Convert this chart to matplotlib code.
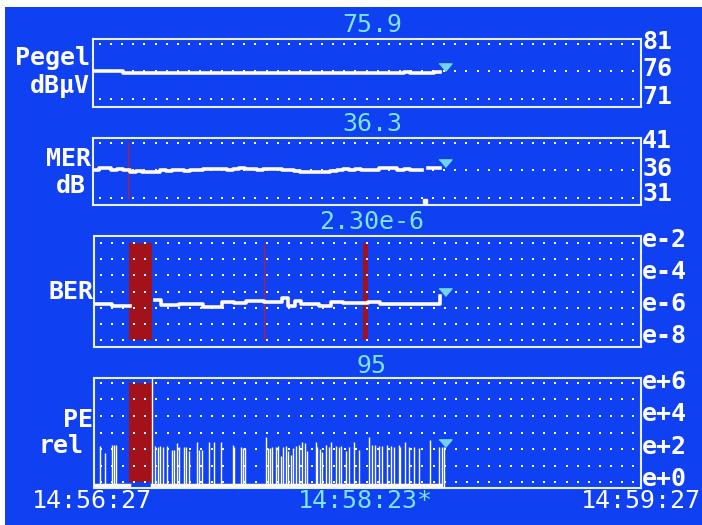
import numpy as np
import matplotlib
matplotlib.use("Agg")
import matplotlib.pyplot as plt
from matplotlib.patches import Rectangle

# time axis: seconds after 14:56:27, readings every 2 s, cursor at 14:58:23
time_labels = ["14:56:27", "14:58:23*", "14:59:27"]
span_s = 180
dt = 2
cursor_s = 115.5

# level in dBuV
pegel = [76.0, 76.0, 76.0, 76.0, 76.0, 75.8, 75.7, 75.7, 75.8, 75.7,
         75.7, 75.8, 75.7, 75.7, 75.7, 75.8, 75.7, 75.7, 75.7, 75.8,
         75.7, 75.7, 75.7, 75.7, 75.8, 75.7, 75.7, 75.8, 75.7, 75.7,
         75.7, 75.8, 75.7, 75.7, 75.7, 75.8, 75.7, 75.8, 75.7, 75.7,
         75.8, 75.7, 75.7, 75.8, 75.8, 75.8, 75.7, 75.8, 75.8, 75.8,
         75.8, 75.9, 75.8, 75.8, 75.8, 75.8, 75.9, 75.9]

# MER in dB (nan = no reading)
mer = [36.1, 36.5, 36.5, 36.1, 36.2, 36.1, 35.8, 35.9, 35.8, 35.7,
       35.8, 36.0, 35.9, 36.0, 36.1, 35.9, 36.0, 36.0, 36.2, 36.2,
       36.3, 36.2, 36.1, 36.2, 36.5, 36.2, 36.3, 36.1, 36.2, 36.3,
       36.2, 36.1, 36.0, 35.9, 35.8, 35.8, 35.7, 35.8, 35.8, 35.9,
       36.0, 36.2, 36.0, 36.2, 36.1, 36.1, 36.0, 36.5, 36.4, 36.5,
       36.1, 36.2, 36.1, 36.1, np.nan, 36.4, 36.4, 36.4]
mer_dropout_s = [109]

# BER as exponent (log10), nan while signal lost
ber = [-5.77, -5.77, -5.80, -5.90, -5.90, -5.90, np.nan, np.nan, np.nan, np.nan,
       -5.52, -5.85, -5.85, -5.85, -5.80, -5.80, -5.80, -5.80, -5.96, -5.96,
       -5.96, -5.63, -5.63, -5.73, -5.73, -5.59, -5.59, -5.59, -5.63, -5.63,
       -5.63, -5.42, -5.90, -5.59, -5.77, -5.77, -5.77, -5.90, -5.90, -5.63,
       -5.63, -5.72, -5.72, -5.72, -5.69, -5.63, -5.63, -5.77, -5.77, -5.77,
       -5.80, -5.80, -5.80, -5.80, -5.80, -5.80, -5.80, -5.30]

# packet errors: time (s) and exponent
pe_t = [2.0, 3.6, 5.9, 6.7, 7.2, 19.0, 20.0, 20.9, 21.8, 22.8, 23.9, 25.8, 26.4,
        27.2, 28.0, 29.5, 30.2, 31.3, 33.8, 34.7, 35.5, 37.9, 39.5, 41.7, 45.6,
        46.1, 48.3, 49.1, 49.7, 56.5, 57.1, 57.9, 58.7, 59.8, 60.7, 61.4, 62.3,
        63.1, 63.8, 64.7, 65.6, 66.6, 67.4, 68.6, 69.3, 70.2, 72.9, 73.5, 74.4,
        75.1, 76.2, 77.3, 77.9, 79.5, 80.6, 81.4, 82.8, 83.9, 85.5, 87.2, 90.4,
        91.5, 92.6, 93.7, 94.8, 96.5, 97.6, 98.6, 100.3, 100.8, 102.5, 103.6,
        105.2, 106.9, 110.7, 113.4, 114.5, 115.1]
pe_val = [2.2, 1.75, 2.25, 2.25, 2.25, 6.5, 2.2, 2.15, 2.2, 2.1, 2.2, 1.95, 1.95,
          2.35, 2.1, 2.15, 2.15, 1.85, 2.45, 1.95, 1.95, 2.45, 2.45, 2.45, 2.25,
          2.15, 2.1, 2.05, 2.05, 2.7, 2.05, 2.05, 2.15, 2.15, 2.2, 1.55, 2.1,
          2.2, 1.85, 1.65, 2.05, 2.2, 2.25, 2.45, 2.35, 1.85, 2.45, 2.15, 2.0,
          1.8, 2.25, 2.1, 2.45, 2.2, 2.1, 2.2, 1.85, 2.1, 2.45, 1.95, 2.75,
          2.25, 2.25, 2.2, 2.2, 2.25, 2.2, 2.1, 2.25, 2.1, 2.45, 2.1, 2.1,
          2.05, 2.55, 2.1, 2.1, 2.1]

# red event marks (s)
outage = (11.5, 19.0)
mer_marks = [11.5]
ber_marks = [55.8]
ber_burst = (88.4, 90.0)

readouts = ["75.9", "36.3", "2.30e-6", "95"]

BLUE = "#0f40f2"
TRACE = "#fffbe8"
CYAN = "#7ee4ef"
BOX = "#e6f2ff"
RED = "#a3121a"
THIN_RED = "#b0203a"
W, H = 702, 525

fig = plt.figure(figsize=(W / 100, H / 100), dpi=100, facecolor="white")
fig.patches.append(Rectangle((5 / W, 0), 1, (H - 7) / H, transform=fig.transFigure,
                             facecolor=BLUE, edgecolor="none", zorder=-10))


def ftext(x, y, s, **kw):
    kw.setdefault("family", "DejaVu Sans Mono")
    kw.setdefault("fontsize", 18)
    kw.setdefault("va", "center")
    fig.text(x / W, 1 - y / H, s, **kw)


def panel(x0, y0, x1, y1, ylim, rows):
    ax = fig.add_axes([x0 / W, 1 - y1 / H, (x1 - x0) / W, (y1 - y0) / H])
    ax.set_facecolor("none")
    ax.set_xlim(0, span_s)
    ax.set_ylim(*ylim)
    ax.set_xticks([])
    ax.set_yticks([])
    for sp in ax.spines.values():
        sp.set_color(BOX)
        sp.set_linewidth(1.5)
    xs = np.linspace(2.3, 177.4, 49)
    for r in rows:
        ax.scatter(xs, np.full(xs.size, r), s=3.5, c="white", marker="s",
                   linewidths=0, zorder=2)
    return ax


tri = [(-0.85, 1.0), (0.85, 1.0), (0.0, 0.0)]
t = np.arange(len(pegel)) * dt

# Pegel
ax1 = panel(93, 39, 641, 107, (69.55, 81.9), [71, 76, 81])
ax1.plot(t, pegel, drawstyle="steps-post", color=TRACE, lw=2.6, zorder=3)
ax1.plot([cursor_s], [pegel[-1] + 0.1], marker=tri, ms=11, color="#6fd6ee", zorder=4)

# MER
ax2 = panel(93, 138, 641, 205, (29.7, 41.9), [31, 36, 41])
for m in mer_marks:
    ax2.plot([m, m], [31, 41], color=THIN_RED, lw=1.0, zorder=1)
ax2.plot(t, mer, drawstyle="steps-post", color=TRACE, lw=2.6, zorder=3)
ax2.plot(mer_dropout_s, [30.4] * len(mer_dropout_s), marker="s", ms=3.5,
         color=TRACE, ls="none", zorder=3)
ax2.plot([cursor_s], [mer[-1] + 0.2], marker=tri, ms=11, color="#6fd6ee", zorder=4)

# BER
ax3 = panel(94, 236, 641, 347, (-8.43, -1.57), list(range(-2, -9, -1)))
ax3.fill_between(outage, -8, -2, color=RED, lw=0, zorder=1)
ax3.fill_between(ber_burst, -8, -2, color=RED, lw=0, zorder=1)
for m in ber_marks:
    ax3.plot([m, m], [-8, -2], color=THIN_RED, lw=1.0, zorder=1)
ax3.plot(t, ber, drawstyle="steps-post", color=TRACE, lw=2.6, zorder=3)
ax3.plot([cursor_s], [ber[-1]], marker=tri, ms=11, color="#6fd6ee", zorder=4)

# PE
ax4 = panel(94, 378, 641, 488, (-0.36, 6.3), list(range(0, 7)))
ax4.fill_between(outage, 0, 6, color=RED, lw=0, zorder=1)
ax4.vlines(pe_t, -0.36, pe_val, color="white", lw=1.0, zorder=3)
ax4.plot([0, outage[0]], [-0.2, -0.2], color=TRACE, lw=2.5, zorder=3)
ax4.plot([outage[1], t[-1]], [-0.2, -0.2], color=TRACE, lw=2.5, zorder=3)
ax4.plot([cursor_s], [pe_val[-1]], marker=tri, ms=11, color="#6fd6ee", zorder=4)

# readouts above each panel
for s, y in zip(readouts, [25, 124, 222, 366]):
    ftext(372, y, s, color=CYAN, ha="center")

# left labels
ftext(90, 58, "Pegel", color="white", ha="right", weight="bold")
ftext(90, 86, "dBµV", color="white", ha="right", weight="bold")
ftext(91, 159, "MER", color="white", ha="right", weight="bold")
ftext(86, 186, "dB", color="white", ha="right", weight="bold")
ftext(93, 292, "BER", color="white", ha="right", weight="bold")
ftext(93, 420, "PE", color="white", ha="right", weight="bold")
ftext(84, 446, "rel", color="white", ha="right", weight="bold")

# right scale labels
right_labels = [
    (["81", "76", "71"], [42, 69, 97]),
    (["41", "36", "31"], [141, 169, 194]),
    (["e-2", "e-4", "e-6", "e-8"], [240, 272, 304, 336]),
    (["e+6", "e+4", "e+2", "e+0"], [382, 414, 447, 479]),
]
for labels, ys in right_labels:
    for s, y in zip(labels, ys):
        ftext(642, y, s, color="white", ha="left", weight="bold")

# time labels
ftext(32, 501, time_labels[0], color="white", ha="left")
ftext(365, 501, time_labels[1], color=CYAN, ha="center")
ftext(701, 501, time_labels[2], color="white", ha="right")

fig.savefig("out.png", dpi=100, facecolor="white")
